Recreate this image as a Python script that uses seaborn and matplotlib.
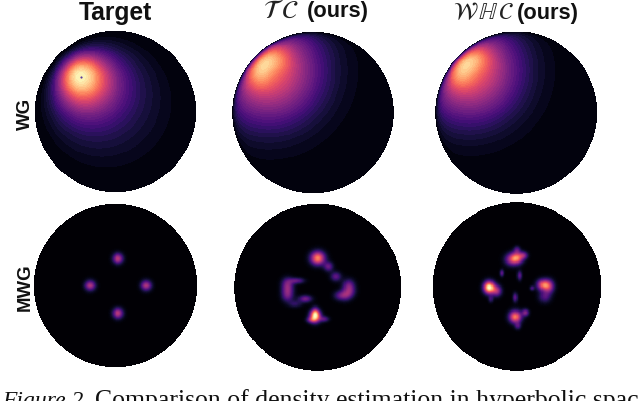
import numpy as np
import matplotlib
matplotlib.use("Agg")
import matplotlib.pyplot as plt
import seaborn as sns

W, H = 638, 402
sns.set_theme(style="white")
plt.rcParams["font.family"] = ["Liberation Sans", "DejaVu Sans"]
plt.rcParams["mathtext.fontset"] = "stix"

row_labels = ["WG", "MWG"]
col_titles = ["Target", r"$\mathcal{T}\;\mathcal{C}$", r"$\mathcal{W}\,\mathbb{H}\,\mathcal{C}$"]
ours_label = "(ours)"
caption_italic = "Figure 2."
caption_text = "Comparison of density estimation in hyperbolic spac"

# hyperbolic components of the target WG panel: centre x, centre y (down), spread, height
wg_target_x = [-0.43, -0.43]
wg_target_y = [-0.43, -0.43]
wg_target_s = [0.68, 1.35]
wg_target_h = [0.70, 0.30]
wg_dot = (-0.43, -0.43)

# blobs: centre x, centre y (down), spread x, spread y, height
wg_tc_x = [-0.68, -0.52, -0.55]
wg_tc_y = [-0.52, -0.68, -0.52]
wg_tc_sx = [0.12, 0.16, 0.44]
wg_tc_sy = [0.16, 0.12, 0.44]
wg_tc_h = [0.22, 0.22, 0.66]

wg_whc_x = [-0.70, -0.54, -0.58]
wg_whc_y = [-0.52, -0.68, -0.52]
wg_whc_sx = [0.12, 0.16, 0.42]
wg_whc_sy = [0.16, 0.12, 0.42]
wg_whc_h = [0.22, 0.22, 0.66]

mwg_target_x = [0.03, -0.31, 0.375, 0.03]
mwg_target_y = [-0.33, 0.0, 0.0, 0.34]
mwg_target_sx = [0.045, 0.045, 0.045, 0.045]
mwg_target_sy = [0.045, 0.045, 0.045, 0.045]
mwg_target_h = [0.50, 0.48, 0.48, 0.50]

mwg_tc_x = [0.0, -0.36, -0.36, -0.36, 0.37, 0.38, 0.33, 0.26, -0.03, 0.13, 0.22,
            -0.25, -0.15, -0.27, 0.08, -0.08, -0.03]
mwg_tc_y = [-0.35, -0.05, 0.03, 0.11, -0.03, 0.05, 0.10, 0.10, 0.345, -0.25, -0.13,
            -0.08, 0.14, 0.20, 0.38, 0.39, 0.29]
mwg_tc_sx = [0.06, 0.05, 0.05, 0.05, 0.05, 0.05, 0.05, 0.05, 0.045, 0.04, 0.045,
             0.06, 0.055, 0.055, 0.04, 0.04, 0.03]
mwg_tc_sy = [0.055, 0.05, 0.05, 0.05, 0.05, 0.05, 0.045, 0.04, 0.05, 0.04, 0.04,
             0.025, 0.03, 0.03, 0.025, 0.025, 0.04]
mwg_tc_h = [0.74, 0.28, 0.28, 0.26, 0.28, 0.28, 0.26, 0.20, 0.90, 0.30, 0.28,
            0.28, 0.33, 0.16, 0.25, 0.28, 0.25]

mwg_whc_x = [0.0, -0.07, 0.08, 0.0, -0.33, -0.24, 0.31, 0.38, 0.33, -0.02, 0.10, 0.01,
             -0.18, 0.03, -0.02, -0.31, 0.18]
mwg_whc_y = [-0.34, -0.32, -0.37, -0.44, 0.01, 0.05, -0.02, 0.0, 0.12, 0.36, 0.31, 0.47,
             -0.16, -0.13, 0.13, 0.15, 0.02]
mwg_whc_sx = [0.05, 0.055, 0.035, 0.025, 0.045, 0.04, 0.05, 0.045, 0.05, 0.05, 0.03, 0.025,
              0.018, 0.02, 0.02, 0.02, 0.02]
mwg_whc_sy = [0.05, 0.05, 0.03, 0.03, 0.05, 0.045, 0.045, 0.055, 0.05, 0.05, 0.03, 0.03,
              0.03, 0.04, 0.04, 0.03, 0.02]
mwg_whc_h = [0.62, 0.38, 0.30, 0.20, 1.0, 0.42, 0.62, 0.42, 0.25, 0.72, 0.35, 0.22,
             0.28, 0.28, 0.28, 0.18, 0.22]

# disk boxes in pixels: centre x, centre y, radius
disk_cx = [115.5, 313.0, 516.3, 115.5, 317.7, 517.0]
disk_cy = [112.5, 113.5, 113.5, 286.5, 288.3, 287.5]
disk_r = [80.5, 80.7, 81.0, 81.5, 83.4, 84.2]

N = 330
axis = (np.arange(N) + 0.5) / N * 2 - 1
gx, gy = np.meshgrid(axis, axis)
z = gx + 1j * gy
outside = np.abs(z) >= 1
rim_fade = 1 - np.exp(-np.clip(1 - np.abs(z), 0, None) / 0.04)


def hyper(xs, ys, ss, hs):
    out = np.zeros_like(gx)
    zz = np.where(outside, 0, z)
    for x, y, s, h in zip(xs, ys, ss, hs):
        c = x + 1j * y
        d = 2 * np.arctanh(np.clip(np.abs((zz - c) / (1 - np.conj(c) * zz)), 0, 0.999999))
        out += h * np.exp(-d ** 2 / (2 * s ** 2))
    return out


def blobs(xs, ys, sxs, sys, hs):
    out = np.zeros_like(gx)
    for x, y, sx, sy, h in zip(xs, ys, sxs, sys, hs):
        out += h * np.exp(-(gx - x) ** 2 / (2 * sx ** 2) - (gy - y) ** 2 / (2 * sy ** 2))
    return out


fields = [
    hyper(wg_target_x, wg_target_y, wg_target_s, wg_target_h),
    blobs(wg_tc_x, wg_tc_y, wg_tc_sx, wg_tc_sy, wg_tc_h) * rim_fade,
    blobs(wg_whc_x, wg_whc_y, wg_whc_sx, wg_whc_sy, wg_whc_h) * rim_fade,
    blobs(mwg_target_x, mwg_target_y, mwg_target_sx, mwg_target_sy, mwg_target_h),
    blobs(mwg_tc_x, mwg_tc_y, mwg_tc_sx, mwg_tc_sy, mwg_tc_h),
    blobs(mwg_whc_x, mwg_whc_y, mwg_whc_sx, mwg_whc_sy, mwg_whc_h),
]

fig = plt.figure(figsize=(W / 100, H / 100), dpi=100, facecolor="white")
palette_top = sns.color_palette("magma", 36)
palette_bottom = sns.color_palette("magma", 128)

for i, field in enumerate(fields):
    cx, cy, r = disk_cx[i], disk_cy[i], disk_r[i]
    ax = fig.add_axes([(cx - r) / W, 1 - (cy + r) / H, 2 * r / W, 2 * r / H])
    sns.heatmap(field, ax=ax, mask=outside, vmin=0, vmax=1, cbar=False, square=False,
                cmap=palette_top if i < 3 else palette_bottom,
                xticklabels=False, yticklabels=False, rasterized=True)
    ax.set_facecolor("white")
    for s in ax.spines.values():
        s.set_visible(False)
    if i == 0:
        ax.scatter([(wg_dot[0] + 1) / 2 * N], [(wg_dot[1] + 1) / 2 * N], s=2.5,
                   color="#5b3a9e", linewidths=0, zorder=5)


def px(x, y):
    return x / W, 1 - y / H


fig.text(*px(115.5, 20), col_titles[0], fontsize=17.7, fontweight="bold", ha="center",
         va="baseline", color="#111111")
fig.text(*px(263, 18), col_titles[1], fontsize=19, ha="left", va="baseline", color="#222222")
fig.text(*px(306.7, 17.5), ours_label, fontsize=15.7, fontweight="bold", ha="left",
         va="baseline", color="#111111")
fig.text(*px(453, 19), col_titles[2], fontsize=17, ha="left", va="baseline", color="#222222")
fig.text(*px(517.3, 19), ours_label, fontsize=15.7, fontweight="bold", ha="left",
         va="baseline", color="#111111")
fig.text(*px(25, 114), row_labels[0], fontsize=13.4, fontweight="bold", rotation=90,
         ha="center", va="center", color="#111111")
fig.text(*px(25, 287), row_labels[1], fontsize=13.4, fontweight="bold", rotation=90,
         ha="center", va="center", color="#111111")

fig.text(*px(2, 407), caption_italic, fontsize=17, family="Liberation Serif", style="italic",
         ha="left", va="baseline", color="#111111")
fig.text(*px(95, 407), caption_text, fontsize=18.5, family="Liberation Serif",
         ha="left", va="baseline", color="#111111")

fig.savefig("out.png", dpi=100, facecolor="white")
